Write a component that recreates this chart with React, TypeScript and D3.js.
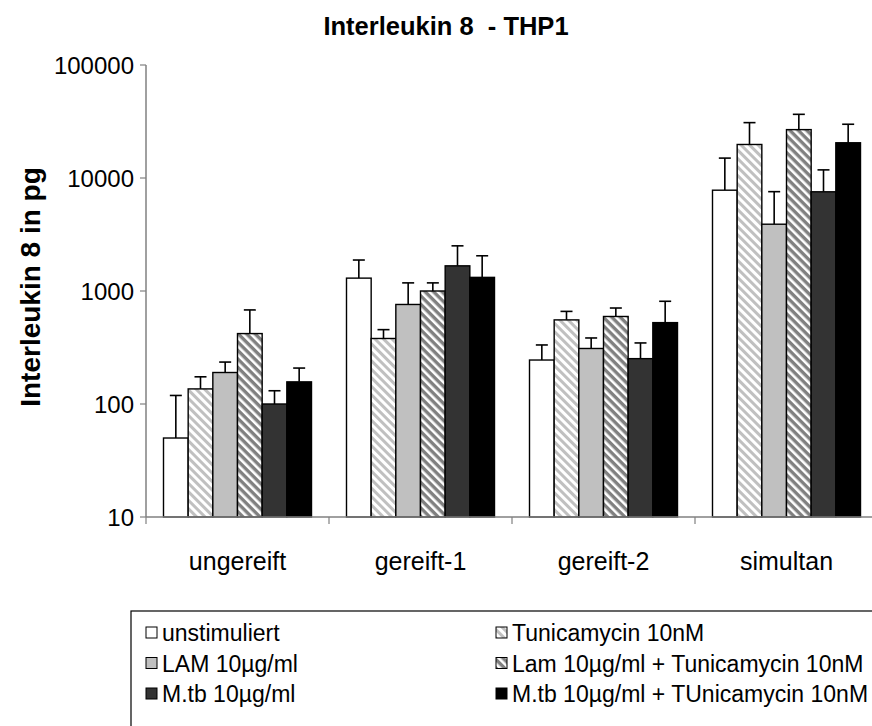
import React from "react";
import * as d3 from "d3";

// Groups on the x axis
const categories = ["ungereift", "gereift-1", "gereift-2", "simultan"];

// Treatment series, in drawing order
const seriesNames = [
  "unstimuliert",
  "Tunicamycin 10nM",
  "LAM 10µg/ml",
  "Lam 10µg/ml + Tunicamycin 10nM",
  "M.tb 10µg/ml",
  "M.tb 10µg/ml + TUnicamycin 10nM",
];

// Mean IL-8 (pg) per series, one value per category
const unstimuliert = [50, 1300, 245, 7800];
const tunicamycin = [136, 380, 555, 19800];
const lam = [190, 760, 310, 3900];
const lamTunicamycin = [420, 1000, 595, 26800];
const mtb = [100, 1670, 252, 7550];
const mtbTunicamycin = [157, 1320, 525, 20500];

// Upper end of the error bar (mean + SD), one value per category
const unstimuliertErr = [119, 1880, 333, 15000];
const tunicamycinErr = [174, 455, 660, 30900];
const lamErr = [235, 1180, 384, 7570];
const lamTunicamycinErr = [680, 1180, 707, 36600];
const mtbErr = [131, 2510, 347, 11800];
const mtbTunicamycinErr = [208, 2050, 811, 29900];

const yTicks = [10, 100, 1000, 10000, 100000];

const values = [unstimuliert, tunicamycin, lam, lamTunicamycin, mtb, mtbTunicamycin];
const errs = [unstimuliertErr, tunicamycinErr, lamErr, lamTunicamycinErr, mtbErr, mtbTunicamycinErr];

const fills = [
  "#ffffff",
  "url(#hatchLight)",
  "#c0c0c0",
  "url(#hatchDark)",
  "#333333",
  "#000000",
];

const FONT = "'Liberation Sans', Arial, sans-serif";

export default function App() {
  const W = 872;
  const H = 726;
  const x0 = 146;
  const catW = 183;
  const yTop = 65;
  const yBottom = 517;

  const x = d3
    .scaleBand<string>()
    .domain(categories)
    .range([x0, x0 + catW * categories.length])
    .paddingInner(0)
    .paddingOuter(0);

  const inner = d3
    .scaleBand<string>()
    .domain(seriesNames)
    .range([17.5, catW - 17.5])
    .padding(0);

  const y = d3.scaleLog().domain([10, 100000]).range([yBottom, yTop]);

  const bw = inner.bandwidth();

  return (
    <svg
      width={W}
      height={H}
      style={{ position: "absolute", left: 0, top: 0, background: "#fff" }}
      fontFamily={FONT}
    >
      <defs>
        <pattern
          id="hatchLight"
          patternUnits="userSpaceOnUse"
          width={6}
          height={6}
          patternTransform="rotate(-45)"
        >
          <rect width={6} height={6} fill="#ffffff" />
          <rect width={3} height={6} fill="#c0c0c0" />
        </pattern>
        <pattern
          id="hatchDark"
          patternUnits="userSpaceOnUse"
          width={6}
          height={6}
          patternTransform="rotate(-45)"
        >
          <rect width={6} height={6} fill="#808080" />
          <rect width={2.6} height={6} fill="#ffffff" />
        </pattern>
      </defs>

      {/* Title */}
      <text
        x={446}
        y={35}
        textAnchor="middle"
        fontSize={25.5}
        fontWeight="bold"
        style={{ whiteSpace: "pre" }}
      >
        {"Interleukin 8  - THP1"}
      </text>

      {/* Y axis title */}
      <text
        transform={`translate(40,${(yTop + yBottom) / 2 - 4}) rotate(-90)`}
        textAnchor="middle"
        fontSize={28}
        fontWeight="bold"
      >
        Interleukin 8 in pg
      </text>

      {/* Bars */}
      {categories.map((c, ci) =>
        seriesNames.map((s, si) => {
          const bx = (x(c) as number) + (inner(s) as number);
          const v = values[si][ci];
          const e = errs[si][ci];
          const cx = bx + bw / 2;
          return (
            <g key={`${c}-${s}`}>
              <line x1={cx} x2={cx} y1={y(v)} y2={y(e)} stroke="#000" strokeWidth={1.6} />
              <line x1={cx - 6} x2={cx + 6} y1={y(e)} y2={y(e)} stroke="#000" strokeWidth={1.6} />
              <rect
                x={bx}
                y={y(v)}
                width={bw}
                height={yBottom - y(v)}
                fill={fills[si]}
                stroke="#000"
                strokeWidth={1.4}
              />
            </g>
          );
        })
      )}

      {/* Y axis */}
      <line x1={x0} x2={x0} y1={yTop} y2={yBottom} stroke="#808080" strokeWidth={1.5} />
      {yTicks.map((t) => (
        <g key={t}>
          <line x1={x0 - 6} x2={x0} y1={y(t)} y2={y(t)} stroke="#808080" strokeWidth={1.2} />
          <text x={x0 - 12} y={y(t) + 9} textAnchor="end" fontSize={24}>
            {t}
          </text>
        </g>
      ))}

      {/* X axis */}
      <line x1={x0} x2={W} y1={yBottom} y2={yBottom} stroke="#808080" strokeWidth={1.5} />
      {categories.map((c) => (
        <g key={c}>
          <line
            x1={x(c) as number}
            x2={x(c) as number}
            y1={yBottom}
            y2={yBottom + 7}
            stroke="#808080"
            strokeWidth={1.2}
          />
          <text x={(x(c) as number) + catW / 2} y={570} textAnchor="middle" fontSize={25}>
            {c}
          </text>
        </g>
      ))}

      {/* Legend */}
      <rect x={131} y={611} width={800} height={200} fill="none" stroke="#000" strokeWidth={1.2} />
      {seriesNames.map((s, i) => {
        const col = i % 2;
        const row = Math.floor(i / 2);
        const lx = col === 0 ? 146 : 496;
        const ly = 633 + row * 30.5;
        return (
          <g key={s}>
            <rect x={lx} y={ly - 6} width={11} height={11} fill={fills[i]} stroke="#000" strokeWidth={1} />
            <text x={lx + 16} y={ly + 8} fontSize={23}>
              {s}
            </text>
          </g>
        );
      })}
    </svg>
  );
}
